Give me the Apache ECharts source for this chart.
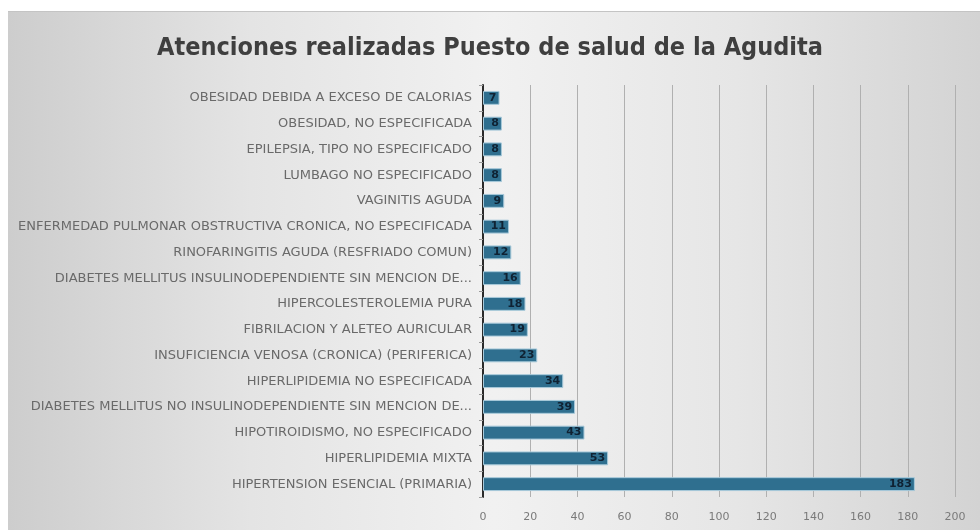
<!DOCTYPE html>
<html>
<head>
<meta charset="utf-8">
<style>
  html, body { margin: 0; padding: 0; background: #ffffff; }
  #chart { width: 980px; height: 530px; }
</style>
<script src="https://cdn.jsdelivr.net/npm/echarts@6/dist/echarts.min.js"></script>
</head>
<body>
<div id="chart"></div>
<script>
// Diagnoses, listed bottom to top as they appear on the category axis
const diagnoses = [
  'HIPERTENSION ESENCIAL (PRIMARIA)',
  'HIPERLIPIDEMIA MIXTA',
  'HIPOTIROIDISMO, NO ESPECIFICADO',
  'DIABETES MELLITUS NO INSULINODEPENDIENTE SIN MENCION DE...',
  'HIPERLIPIDEMIA NO ESPECIFICADA',
  'INSUFICIENCIA VENOSA (CRONICA) (PERIFERICA)',
  'FIBRILACION Y ALETEO AURICULAR',
  'HIPERCOLESTEROLEMIA PURA',
  'DIABETES MELLITUS INSULINODEPENDIENTE SIN MENCION DE...',
  'RINOFARINGITIS AGUDA (RESFRIADO COMUN)',
  'ENFERMEDAD PULMONAR OBSTRUCTIVA CRONICA, NO ESPECIFICADA',
  'VAGINITIS AGUDA',
  'LUMBAGO NO ESPECIFICADO',
  'EPILEPSIA, TIPO NO ESPECIFICADO',
  'OBESIDAD, NO ESPECIFICADA',
  'OBESIDAD DEBIDA A EXCESO DE CALORIAS'
];
const atenciones = [183, 53, 43, 39, 34, 23, 19, 18, 16, 12, 11, 9, 8, 8, 8, 7];
const titleText = 'Atenciones realizadas Puesto de salud de la Agudita';

const chart = echarts.init(document.getElementById('chart'), null, { renderer: 'canvas' });

chart.setOption({
  animation: false,
  backgroundColor: '#ffffff',
  graphic: [{
    type: 'rect',
    z: -10,
    silent: true,
    shape: { x: 8, y: 11, width: 972, height: 519 },
    style: {
      fill: {
        type: 'linear', x: 0, y: 0, x2: 1, y2: 0,
        colorStops: [
          { offset: 0, color: '#cdcdcd' },
          { offset: 0.25, color: '#e4e4e4' },
          { offset: 0.5, color: '#f1f1f1' },
          { offset: 0.75, color: '#e6e6e6' },
          { offset: 1, color: '#d3d3d3' }
        ]
      }
    }
  }, {
    type: 'line',
    z: -9,
    silent: true,
    shape: { x1: 8, y1: 11.5, x2: 980, y2: 11.5 },
    style: { stroke: '#c4c4c4', lineWidth: 1 }
  }],
  title: {
    text: titleText,
    left: 'center',
    top: 31,
    textStyle: {
      fontFamily: "'DejaVu Sans Condensed', 'Roboto Condensed', Roboto, sans-serif",
      fontSize: 25,
      fontWeight: 'bold',
      color: '#3f3f3f'
    }
  },
  grid: { left: 483, right: 25, top: 85, bottom: 33, containLabel: false },
  xAxis: {
    type: 'value',
    min: 0,
    max: 200,
    interval: 20,
    axisLine: { show: false },
    axisTick: { show: false },
    axisLabel: {
      color: '#7a7a7a',
      fontFamily: 'DejaVu Sans',
      fontSize: 11,
      margin: 15
    },
    splitLine: { show: true, lineStyle: { color: '#b0b0b0', width: 1 } }
  },
  yAxis: {
    type: 'category',
    data: diagnoses,
    axisLine: { show: true, lineStyle: { color: '#2a2a2a', width: 2 } },
    axisTick: { show: true, length: 4, lineStyle: { color: '#9a9a9a' } },
    axisLabel: {
      color: '#6a6a6a',
      fontFamily: 'DejaVu Sans',
      fontSize: 13,
      margin: 11
    },
    splitLine: { show: false }
  },
  series: [{
    type: 'bar',
    data: atenciones,
    barWidth: '54%',
    itemStyle: {
      color: '#2f6f8f',
      borderColor: '#a7c9da',
      borderWidth: 1
    },
    label: {
      show: true,
      position: 'insideRight',
      offset: [2, 0],
      color: '#0f2233',
      fontFamily: 'DejaVu Sans',
      fontWeight: 'bold',
      fontSize: 11
    }
  }]
});
</script>
</body>
</html>
